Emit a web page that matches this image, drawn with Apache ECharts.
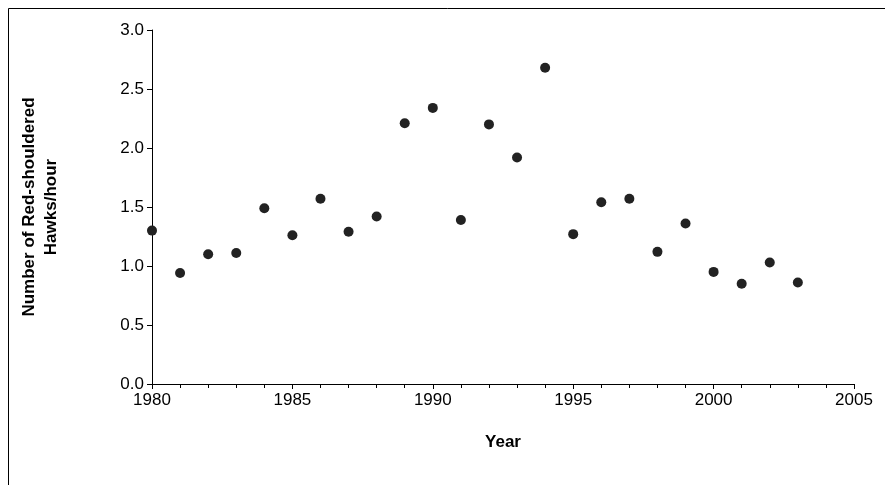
<!DOCTYPE html>
<html>
<head>
<meta charset="utf-8">
<script src="https://cdn.jsdelivr.net/npm/echarts@6/dist/echarts.min.js"></script>
<style>html,body{margin:0;padding:0;background:#fff}#c{width:885px;height:485px}</style>
</head>
<body>
<div id="c"></div>
<script>
// Red-shouldered hawks per hour, by year
var years = [1980,1981,1982,1983,1984,1985,1986,1987,1988,1989,1990,1991,1992,1993,1994,1995,1996,1997,1998,1999,2000,2001,2002,2003];
var hawks = [1.30,0.94,1.10,1.11,1.49,1.26,1.57,1.29,1.42,2.21,2.34,1.39,2.20,1.92,2.68,1.27,1.54,1.57,1.12,1.36,0.95,0.85,1.03,0.86];

var chart = echarts.init(document.getElementById('c'));
var font = 'Arial, "Liberation Sans", sans-serif';

chart.setOption({
  animation: false,
  grid: { left: 152, right: 31, top: 30, bottom: 101 },
  graphic: [{
    type: 'rect', shape: { x: 8.5, y: 8.5, width: 890, height: 490 },
    style: { fill: 'none', stroke: '#000', lineWidth: 1 }
  }],
  xAxis: {
    type: 'value', min: 1980, max: 2005, interval: 5,
    name: 'Year', nameLocation: 'middle', nameGap: 50,
    nameTextStyle: { fontFamily: font, fontSize: 17, fontWeight: 'bold', color: '#000' },
    axisLine: { lineStyle: { color: '#000' } },
    axisTick: { show: true, inside: false, length: 5, lineStyle: { color: '#000' } },
    minorTick: { show: true, splitNumber: 5, length: 4, lineStyle: { color: '#000' } },
    axisLabel: { fontFamily: font, fontSize: 17, color: '#000', margin: 8,
      formatter: function (v) { return String(v); } },
    splitLine: { show: false }
  },
  yAxis: {
    type: 'value', min: 0, max: 3, interval: 0.5,
    name: 'Number of Red-shouldered\nHawks/hour', nameLocation: 'middle', nameGap: 90,
    nameTextStyle: { fontFamily: font, fontSize: 17, fontWeight: 'bold', color: '#000', lineHeight: 22 },
    axisLine: { show: true, lineStyle: { color: '#000' } },
    axisTick: { show: true, length: 5, lineStyle: { color: '#000' } },
    axisLabel: { fontFamily: font, fontSize: 17, color: '#000', margin: 8,
      formatter: function (v) { return v.toFixed(1); } },
    splitLine: { show: false }
  },
  series: [{
    type: 'scatter',
    symbolSize: 10,
    itemStyle: { color: '#222', opacity: 1 },
    data: years.map(function (y, i) { return [y, hawks[i]]; })
  }]
});
</script>
</body>
</html>
